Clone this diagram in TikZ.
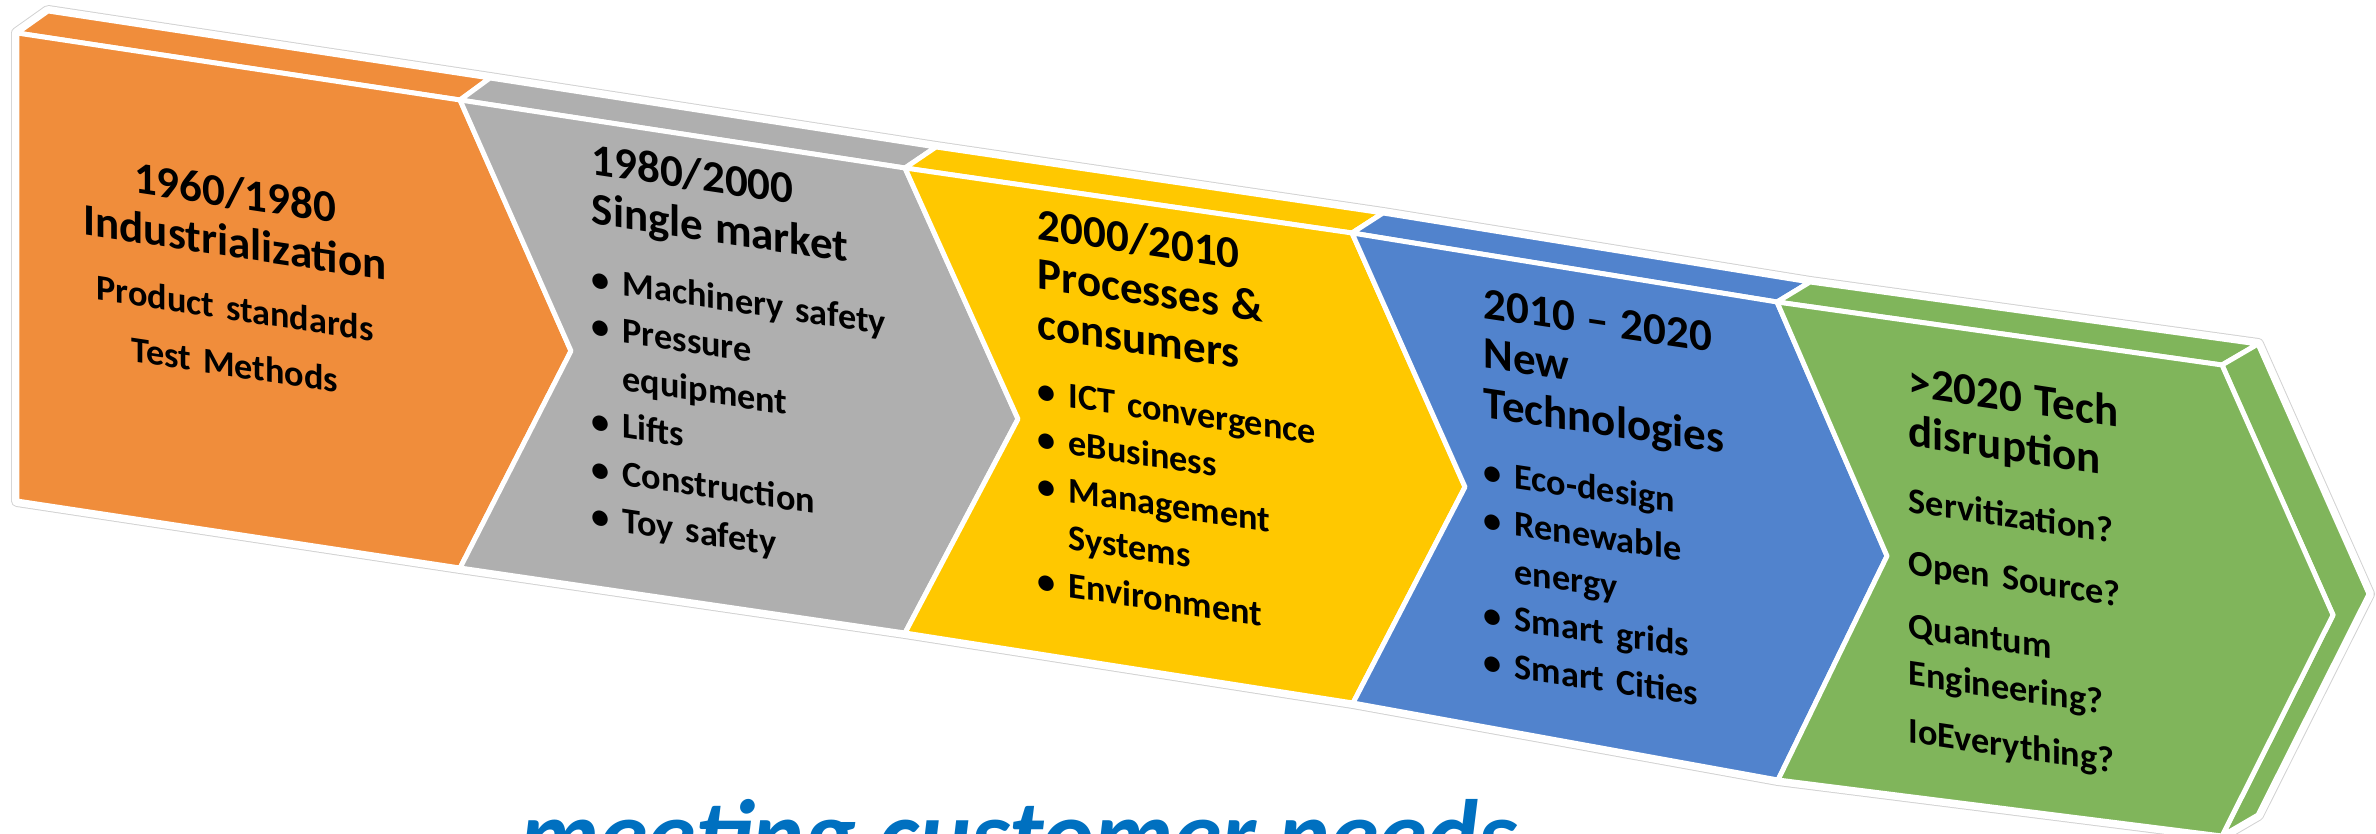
\documentclass[tikz,border=0pt]{standalone}
\usepackage{fontspec}
\setmainfont{Carlito}
\setlength{\parindent}{0pt}

\definecolor{orangeA}{HTML}{F08D3B}
\definecolor{grayA}{HTML}{AFAFAF}
\definecolor{yellowA}{HTML}{FFC800}
\definecolor{blueA}{HTML}{5183CD}
\definecolor{greenA}{HTML}{80B55B}
\definecolor{mottoblue}{HTML}{0070C0}

\newcommand{\ttlfont}{\fontsize{12.8}{14.1}\selectfont\bfseries}
\newcommand{\bdyfont}{\fontsize{10.3}{13.5}\selectfont\bfseries}
\newcommand{\itm}[1]{\makebox[8.8pt][l]{\textbullet}#1\par}
\newcommand{\cnt}[1]{\hspace*{8.8pt}#1\par}

\tikzset{
  face/.style={draw=white, line width=1.4pt, line join=round},
  blocktext/.style={yslant=-0.15, inner sep=0pt, text width=4.2cm, align=left, anchor=base west, text=black},
}

\begin{document}
\begin{tikzpicture}[x=0.01cm, y=-0.01cm]
  \useasboundingbox (0,0) rectangle (2376,834);
  \clip (0,0) rectangle (2376,834);

  % front corners
  \coordinate (tl) at (17,33);
  \coordinate (bl) at (17,501);
  \coordinate (n1) at (460,100);   \coordinate (p1) at (571,351);   \coordinate (b1) at (460,568);
  \coordinate (n2) at (905,168);   \coordinate (p2) at (1018,419);  \coordinate (b2) at (905,633);
  \coordinate (n3) at (1352,233);  \coordinate (p3) at (1465,487);  \coordinate (b3) at (1353,703);
  \coordinate (n4) at (1777,302);  \coordinate (p4) at (1887,556);  \coordinate (b4) at (1778,780);
  \coordinate (n5) at (2222,365);  \coordinate (p5) at (2333,615);  \coordinate (b5) at (2222,836);
  % back corners
  \coordinate (u0) at (48,11);
  \coordinate (u1) at (490,78);
  \coordinate (u2) at (936,147);
  \coordinate (u3) at (1383,213);
  \coordinate (u4) at (1810,282);
  \coordinate (u5) at (2258,344);
  \coordinate (q5) at (2369,594);
  \coordinate (c5) at (2258,815);

  % outline of the whole arrow
  \draw[gray!35, line width=3.4pt, line join=round]
    (tl) -- (u0) -- (u1) -- (u2) -- (u3) -- (u4) -- (u5) -- (q5) -- (c5) -- (b5)
    -- (b4) -- (b3) -- (b2) -- (b1) -- (bl) -- cycle;
  \draw[white, line width=2.85pt, line join=round]
    (tl) -- (u0) -- (u1) -- (u2) -- (u3) -- (u4) -- (u5) -- (q5) -- (c5) -- (b5)
    -- (b4) -- (b3) -- (b2) -- (b1) -- (bl) -- cycle;

  % orange
  \filldraw[face, fill=orangeA] (tl) -- (n1) -- (u1) -- (u0) -- cycle;
  \filldraw[face, fill=orangeA] (tl) -- (n1) -- (p1) -- (b1) -- (bl) -- cycle;
  % gray
  \filldraw[face, fill=grayA] (n1) -- (n2) -- (u2) -- (u1) -- cycle;
  \filldraw[face, fill=grayA] (n1) -- (n2) -- (p2) -- (b2) -- (b1) -- (p1) -- cycle;
  % yellow
  \filldraw[face, fill=yellowA] (n2) -- (n3) -- (u3) -- (u2) -- cycle;
  \filldraw[face, fill=yellowA] (n2) -- (n3) -- (p3) -- (b3) -- (b2) -- (p2) -- cycle;
  % blue
  \filldraw[face, fill=blueA] (n3) -- (n4) -- (u4) -- (u3) -- cycle;
  \filldraw[face, fill=blueA] (n3) -- (n4) -- (p4) -- (b4) -- (b3) -- (p3) -- cycle;
  % green, with its right side
  \filldraw[face, fill=greenA] (n4) -- (n5) -- (u5) -- (u4) -- cycle;
  \filldraw[face, fill=greenA] (n5) -- (u5) -- (q5) -- (c5) -- (b5) -- (p5) -- cycle;
  \filldraw[face, fill=greenA] (n4) -- (n5) -- (p5) -- (b5) -- (b4) -- (p4) -- cycle;

  % texts
  \node[blocktext, align=center, anchor=base] (t1) at (235,208)
    {\ttlfont 1960/1980\par Industrialization\par
     \vspace{4.4pt}\bdyfont Product standards\par
     \vspace{4.1pt}Test Methods};
  \node[blocktext] (t2) at (591,174)
    {\ttlfont 1980/2000\par Single market\par
     \vspace{5.5pt}\bdyfont
     \itm{Machinery safety}\itm{Pressure}\cnt{equipment}\itm{Lifts}\itm{Construction}\itm{Toy safety}};
  \node[blocktext] (t3) at (1037,239)
    {\ttlfont 2000/2010\par Processes \&\par consumers\par
     \vspace{4.8pt}\bdyfont
     \itm{ICT convergence}\itm{eBusiness}\itm{Management}\cnt{Systems}\itm{Environment}};
  \node[blocktext] (t4) at (1483,318)
    {\ttlfont 2010 – 2020\par New\par Technologies\par
     \vspace{5.4pt}\bdyfont
     \itm{Eco-design}\itm{Renewable}\cnt{energy}\itm{Smart grids}\itm{Smart Cities}};
  \node[blocktext] (t5) at (1908,396)
    {\ttlfont >2020 Tech\par disruption\par
     \vspace{5.4pt}\bdyfont Servitization?\par
     \vspace{4.3pt}Open Source?\par
     \vspace{4.3pt}Quantum\par Engineering?\par
     \vspace{4.3pt}IoEverything?};

  \node[font=\fontsize{28}{31}\selectfont\bfseries\itshape, text=mottoblue, inner sep=0pt, anchor=base] (motto)
    at (1019,868) {meeting customer needs};
\end{tikzpicture}
\end{document}
